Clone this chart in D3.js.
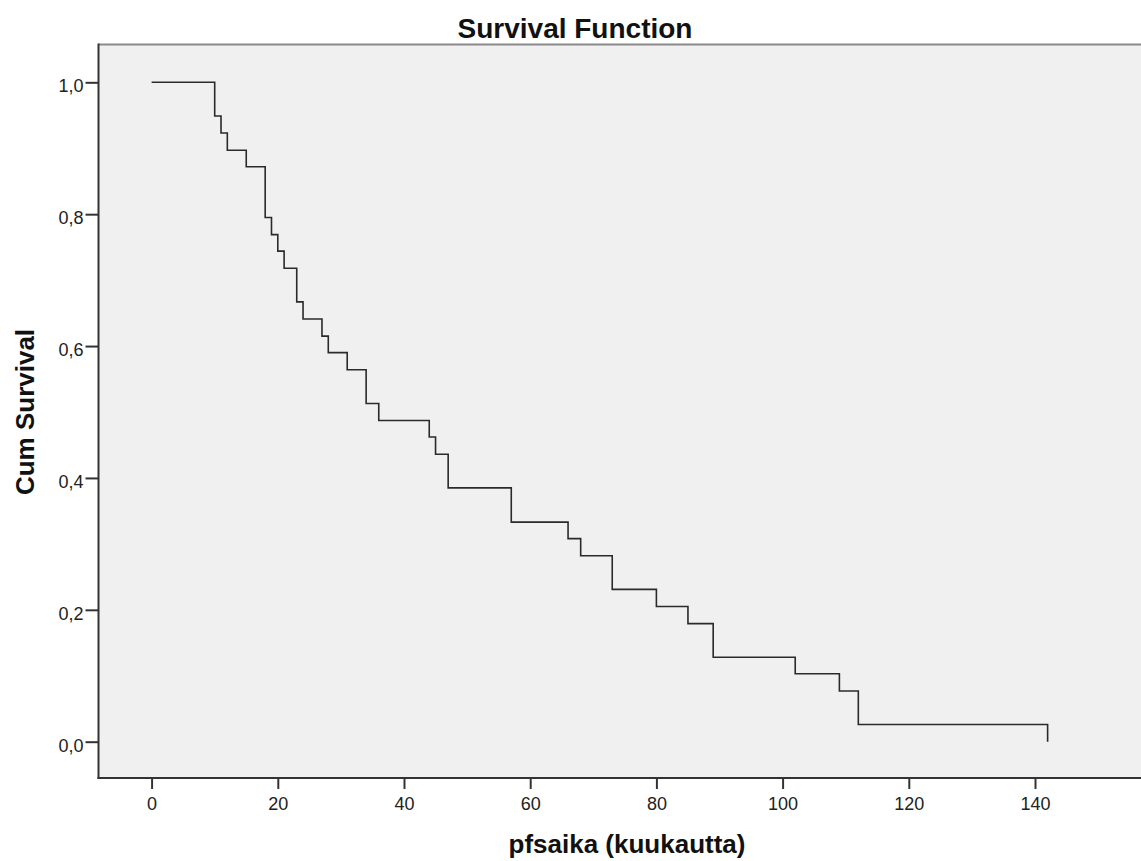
<!DOCTYPE html>
<html lang="en">
<head>
    <meta charset="UTF-8">
    <title>Survival Function</title>
    <style>
        html, body {
            margin: 0;
            padding: 0;
            background: #fff;
        }
        svg {
            display: block;
            font-family: Arial, "Liberation Sans", sans-serif;
        }
    </style>
</head>
<body>
    <div id="chart"></div>
    <script src="https://d3js.org/d3.v7.min.js"></script>
    <script>
        // Kaplan-Meier steps (n = 39)
        const times = [0, 10, 11, 12, 15, 18, 19, 20, 21, 23, 24, 27, 28, 31, 34, 36,
            44, 45, 47, 57, 66, 68, 73, 80, 85, 89, 102, 109, 112, 142];
        const survival = [1.000, 0.949, 0.923, 0.897, 0.872, 0.795, 0.769, 0.744, 0.718,
            0.667, 0.641, 0.615, 0.590, 0.564, 0.513, 0.487, 0.462, 0.436, 0.385,
            0.333, 0.308, 0.282, 0.231, 0.205, 0.179, 0.128, 0.103, 0.077, 0.026, 0.000];
        const xTicks = [0, 20, 40, 60, 80, 100, 120, 140];
        const yTicks = [0, 0.2, 0.4, 0.6, 0.8, 1.0];

        const width = 1141;
        const height = 861;

        const svg = d3.select("#chart")
            .append("svg")
            .attr("width", width)
            .attr("height", height);

        // plot frame (right side runs off the canvas)
        const frame = { left: 98.5, top: 44.5, right: 1150, bottom: 778 };

        const x = d3.scaleLinear().domain([0, 140]).range([151.6, 1035]);
        const y = d3.scaleLinear().domain([0, 1]).range([741.7, 82.3]);

        svg.append("rect")
            .attr("x", frame.left)
            .attr("y", frame.top)
            .attr("width", frame.right - frame.left)
            .attr("height", frame.bottom - frame.top)
            .attr("fill", "#f0f0f0");

        // top border is lighter
        svg.append("line")
            .attr("x1", frame.left).attr("x2", frame.right)
            .attr("y1", frame.top).attr("y2", frame.top)
            .attr("stroke", "#8a8a8a")
            .attr("stroke-width", 2);

        // x axis
        const xAxis = d3.axisBottom(x)
            .tickValues(xTicks)
            .tickSize(11)
            .tickPadding(8)
            .tickFormat(d3.format("d"));
        const gx = svg.append("g")
            .attr("transform", `translate(0, ${frame.bottom})`)
            .call(xAxis);
        gx.select(".domain").remove();
        gx.append("line")
            .attr("x1", frame.left - 1).attr("x2", frame.right)
            .attr("stroke", "#333").attr("stroke-width", 2);

        // y axis
        const yAxis = d3.axisLeft(y)
            .tickValues(yTicks)
            .tickSize(13)
            .tickPadding(2)
            .tickFormat(d => d3.format(".1f")(d).replace(".", ","));
        const gy = svg.append("g")
            .attr("transform", `translate(${frame.left}, 0)`)
            .call(yAxis);
        gy.select(".domain").remove();
        gy.append("line")
            .attr("y1", frame.top - 1).attr("y2", frame.bottom + 1)
            .attr("stroke", "#333").attr("stroke-width", 2);
        gy.selectAll(".tick text").attr("dy", "0.52em");

        svg.selectAll(".tick line")
            .attr("stroke", "#333")
            .attr("stroke-width", 2);
        svg.selectAll(".tick text")
            .attr("fill", "#222")
            .attr("font-size", 18)
            .attr("font-family", "Arial, 'Liberation Sans', sans-serif");

        // survival curve
        const line = d3.line()
            .x((d, i) => x(times[i]))
            .y((d, i) => y(survival[i]))
            .curve(d3.curveStepAfter);

        svg.append("path")
            .datum(survival)
            .attr("d", line)
            .attr("fill", "none")
            .attr("stroke", "#2a2a2a")
            .attr("stroke-width", 1.6);

        // titles
        svg.append("text")
            .text("Survival Function")
            .attr("x", 575)
            .attr("y", 38)
            .attr("text-anchor", "middle")
            .attr("font-size", 28)
            .attr("font-weight", "bold")
            .attr("fill", "#111");

        svg.append("text")
            .text("pfsaika (kuukautta)")
            .attr("x", 627)
            .attr("y", 853)
            .attr("text-anchor", "middle")
            .attr("font-size", 26)
            .attr("font-weight", "bold")
            .attr("fill", "#111");

        svg.append("text")
            .text("Cum Survival")
            .attr("transform", "translate(34, 412) rotate(-90)")
            .attr("text-anchor", "middle")
            .attr("font-size", 26)
            .attr("font-weight", "bold")
            .attr("fill", "#111");
    </script>
</body>
</html>
